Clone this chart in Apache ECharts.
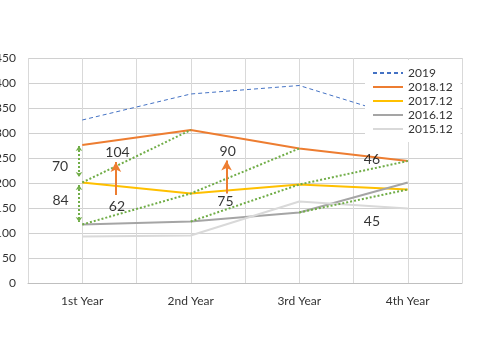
<!DOCTYPE html>
<html>
<head>
<meta charset="utf-8">
<script src="https://cdn.jsdelivr.net/npm/echarts@6/dist/echarts.min.js"></script>
<style>html,body{margin:0;padding:0;background:#fff}#c{width:485px;height:360px}</style>
</head>
<body>
<div id="c"></div>
<script>
// ---- data ----
const categories = ['1st Year', '2nd Year', '3rd Year', '4th Year'];
const seriesNames = ['2019', '2018.12', '2017.12', '2016.12', '2015.12'];
const s2019   = [326, 378, 395, 328];
const s2018   = [276, 306, 269, 244];
const s2017   = [201, 179, 197, 187];
const s2016   = [117, 123, 141, 201];
const s2015   = [93, 95, 163, 149];
const yTicks  = [0, 50, 100, 150, 200, 250, 300, 350, 400, 450];
// green dotted "cohort" paths
const path1 = [201, 306, null, null];
const path2 = [117, 179, 269, null];
const path3 = [null, 123, 197, 244];
const path4 = [null, null, 141, 187];
// annotation texts and their data-space anchors (x in half-category units, y in value units)
const annText = ['70', '84', '104', '62', '90', '75', '46', '45'];
const annX    = [0.59, 0.6, 1.65, 1.64, 3.68, 3.64, 6.34, 6.34];
const annY    = [234, 166, 262, 154, 263, 163, 248, 124];
// orange arrows (from, to)
const orangeArrows = [[1.62, 176, 1.62, 242], [3.66, 179, 3.66, 245]];
// green double arrows
const greenArrows = [[0.94, 274, 0.94, 212], [0.94, 196, 0.94, 122]];

const colors = ['#4472c4', '#ed7d31', '#ffc000', '#a5a5a5', '#d9d9d9'];
const FONT = 'Lato, "Open Sans", sans-serif';

const chart = echarts.init(document.getElementById('c'));

const mainSeries = [s2019, s2018, s2017, s2016, s2015].map((d, i) => ({
  name: seriesNames[i], type: 'line', data: d, symbol: 'none', showSymbol: false, z: 3,
  lineStyle: { color: colors[i], width: i === 0 ? 1 : 2, type: i === 0 ? [4, 3] : 'solid' },
  itemStyle: { color: colors[i] }
}));

const greenSeries = [path1, path2, path3, path4].map((d, i) => ({
  name: 'g' + i, type: 'line', data: d, symbol: 'none', z: 4,
  lineStyle: { color: '#70ad47', width: 2, type: [2, 2] }
}));

const ml = (arr, color, s1, s2, dash, size) => arr.map(a => ([
  { coord: [a[0], a[1]], symbol: s1, symbolSize: size, lineStyle: { color: color, width: 2, type: dash } },
  { coord: [a[2], a[3]], symbol: s2, symbolSize: size }
]));

const annSeries = {
  name: 'ann', type: 'scatter', xAxisIndex: 1, symbolSize: 0, z: 6,
  data: annText.map((t, i) => ({ value: [annX[i], annY[i]], name: t })),
  label: { show: true, position: 'inside', formatter: p => p.name, color: '#000', fontSize: 14, fontFamily: FONT },
  markLine: {
    silent: true, animation: false,
    label: { show: false },
    data: ml(orangeArrows, '#ed7d31', 'none', 'arrow', 'solid', [8, 10])
      .concat(ml(greenArrows, '#70ad47', 'arrow', 'arrow', [2, 2], [5, 5]))
  }
};

chart.setOption({
  animation: false,
  grid: { left: 28, right: 23, top: 58, bottom: 77, containLabel: false, outerBoundsMode: 'none' },
  legend: {
    data: seriesNames, orient: 'vertical', left: 365, top: 60,
    backgroundColor: '#fff', padding: [6, 8, 6, 7],
    itemWidth: 30, itemHeight: 8, itemGap: 0, z: 10,
    itemStyle: { opacity: 0 },
    textStyle: { fontSize: 12, lineHeight: 14, fontFamily: FONT, color: '#333' }
  },
  xAxis: [{
    type: 'category', data: categories, boundaryGap: true,
    axisLine: { lineStyle: { color: '#bfbfbf' } }, axisTick: { show: false },
    axisLabel: { fontSize: 12, fontFamily: FONT, color: '#333', margin: 12 },
    splitLine: { show: false }
  }, {
    type: 'value', min: 0, max: 8, interval: 1, show: true,
    axisLine: { show: false }, axisTick: { show: false }, axisLabel: { show: false },
    splitLine: { show: true, lineStyle: { color: '#d9d9d9', width: 1 } }
  }],
  yAxis: {
    type: 'value', min: yTicks[0], max: yTicks[yTicks.length - 1], interval: yTicks[1] - yTicks[0],
    axisLine: { show: false }, axisTick: { show: false },
    axisLabel: { fontSize: 12, fontFamily: FONT, color: '#333', margin: 12 },
    splitLine: { lineStyle: { color: '#d0d0d0', width: 1 } }
  },
  series: mainSeries.concat(greenSeries, [annSeries])
});
</script>
</body>
</html>
